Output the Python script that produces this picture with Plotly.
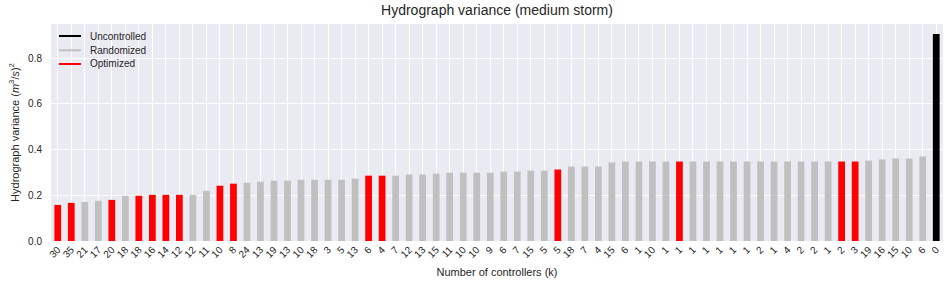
import plotly.graph_objects as go

# Number of controllers (tick labels), in plotted order
controllers = ["30", "35", "21", "17", "20", "18", "18", "16", "14", "12", "12", "11", "10", "8",
               "24", "13", "19", "13", "10", "18", "3", "5", "13", "6", "4", "7", "12", "13",
               "15", "11", "10", "10", "9", "6", "7", "15", "5", "5", "18", "7", "4", "15",
               "6", "1", "10", "1", "1", "1", "1", "1", "1", "1", "2", "1", "4", "2", "2", "1",
               "2", "3", "19", "16", "15", "10", "6", "0"]

# Hydrograph variance values
variance = [0.158, 0.167, 0.171, 0.176, 0.180, 0.198, 0.198, 0.202, 0.202, 0.202, 0.202,
            0.220, 0.242, 0.251, 0.255, 0.260, 0.264, 0.264, 0.268, 0.268, 0.268, 0.268,
            0.273, 0.286, 0.286, 0.286, 0.291, 0.291, 0.295, 0.299, 0.299, 0.299, 0.299,
            0.304, 0.304, 0.308, 0.308, 0.313, 0.326, 0.326, 0.326, 0.344, 0.348,
            0.348, 0.348, 0.348, 0.348, 0.348, 0.348, 0.348, 0.348, 0.348, 0.348, 0.348,
            0.348, 0.348, 0.348, 0.348, 0.348, 0.348, 0.352, 0.357, 0.361, 0.361, 0.370,
            0.906]

# Strategy per bar: U = uncontrolled, R = randomized, O = optimized
strategy = ["O", "O", "R", "R", "O", "R", "O", "O", "O", "O", "R", "R", "O", "O",
            "R", "R", "R", "R", "R", "R", "R", "R", "R", "O", "O", "R", "R", "R",
            "R", "R", "R", "R", "R", "R", "R", "R", "R", "O", "R", "R", "R", "R",
            "R", "R", "R", "R", "O", "R", "R", "R", "R", "R", "R", "R", "R", "R", "R", "R",
            "O", "O", "R", "R", "R", "R", "R", "U"]

legend_order = ["U", "R", "O"]
names = {"U": "Uncontrolled", "R": "Randomized", "O": "Optimized"}
colors = {"U": "#000000", "R": "#C0C0C0", "O": "#FF0000"}

positions = list(range(len(controllers)))
TXT = "#262626"
FONT = "Liberation Sans, Arial, sans-serif"

fig = go.Figure()
for key in legend_order:
    xs = [p for p, s in zip(positions, strategy) if s == key]
    ys = [v for v, s in zip(variance, strategy) if s == key]
    fig.add_trace(go.Bar(x=xs, y=ys, width=0.5, marker=dict(color=colors[key], line=dict(width=0)),
                         name=names[key], showlegend=False))

# Legend drawn as line handles + text (matplotlib style), top-left inside the axes
leg_rows = [0.9447, 0.8788, 0.8157]
for key, yy in zip(legend_order, leg_rows):
    fig.add_shape(type="line", xref="paper", yref="paper", x0=0.009, x1=0.0336, y0=yy, y1=yy,
                  line=dict(color=colors[key], width=2))
    fig.add_annotation(text=names[key], xref="paper", yref="paper", x=0.0415, y=yy,
                       xanchor="left", yanchor="middle", showarrow=False,
                       font=dict(size=10, color=TXT))

fig.update_layout(
    width=950, height=284,
    margin=dict(l=51, r=7, t=24, b=43),
    paper_bgcolor="white", plot_bgcolor="#EAEAF2",
    font=dict(family=FONT, size=10, color=TXT),
    title=dict(text="Hydrograph variance (medium storm)", x=0.5, xanchor="center",
               xref="paper", y=0.9815, yanchor="top", font=dict(size=14, color=TXT)),
    barmode="overlay",
    showlegend=False,
    xaxis=dict(range=[-0.5, len(controllers) - 0.5], tickmode="array", tickvals=positions,
               ticktext=controllers, tickangle=-45, showgrid=True, gridcolor="white", gridwidth=1,
               zeroline=False, showline=False, ticks="", automargin=False,
               tickfont=dict(size=10, color=TXT),
               title=dict(text="Number of controllers (k)", font=dict(size=11, color=TXT), standoff=9)),
    yaxis=dict(range=[0, 0.95], tickvals=[0, 0.2, 0.4, 0.6, 0.8], tickformat=".1f",
               showgrid=True, gridcolor="white", gridwidth=1, zeroline=False, showline=False,
               ticks="outside", ticklen=6, tickcolor="rgba(0,0,0,0)", automargin=False,
               tickfont=dict(size=10, color=TXT),
               title=dict(text="Hydrograph variance (<i>m</i><sup>3</sup>/<i>s</i>)<sup>2</sup>",
                          font=dict(size=11, color=TXT), standoff=6)),
)

# Remove the default 8px page margin so the 950x284 figure fills the window exactly
fig.write_html("out.html", config={"displayModeBar": False},
               post_script="document.body.style.margin='0';")
